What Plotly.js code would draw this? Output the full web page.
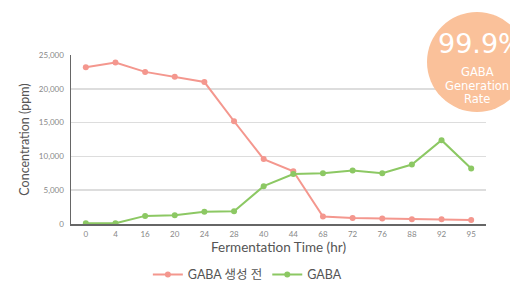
<!DOCTYPE html>
<html>
<head>
<meta charset="utf-8">
<script src="https://cdn.plot.ly/plotly-3.0.1.min.js"></script>
<style>html,body{margin:0;padding:0;background:#fff;}#chart{width:510px;height:281px;}</style>
</head>
<body>
<div id="chart"></div>
<script>
const categories = ["0","4","16","20","24","28","40","44","68","72","76","88","92","95"];
const beforeGABA = [23200, 23900, 22500, 21800, 21000, 15200, 9600, 7800, 1100, 900, 800, 700, 700, 600];
const gaba = [100, 100, 1200, 1300, 1800, 1900, 5600, 7400, 7500, 7900, 7500, 8800, 12400, 8200];
const seriesNames = ["GABA 생성 전", "GABA"];
const yTicks = [0, 5000, 10000, 15000, 20000, 25000];
const yTickText = ["0", "5,000", "10,000", "15,000", "20,000", "25,000"];
const badgeValue = "99.9%";
const badgeLines = ["GABA", "Generation", "Rate"];

const font = "Lato, 'Noto Sans CJK KR', sans-serif";
const badgeFont = "'DejaVu Sans', sans-serif";
const traces = [
  {x: categories, y: beforeGABA, name: seriesNames[0], type: 'scatter', mode: 'lines+markers',
   line: {color: '#F4978E', width: 2}, marker: {color: '#F4978E', size: 6}},
  {x: categories, y: gaba, name: seriesNames[1], type: 'scatter', mode: 'lines+markers',
   line: {color: '#8CC863', width: 2}, marker: {color: '#8CC863', size: 6}}
];
const L = 71, T = 55, W = 415, H = 169;
const px = v => (v - L) / W;
const py = v => (T + H - v) / H;
const lineY = [72, 85.5, 99];
const annotations = [
  {xref: 'paper', yref: 'paper', x: px(437), y: py(43), xanchor: 'left', yanchor: 'middle',
   text: badgeValue, showarrow: false, borderpad: 0, font: {size: 27, color: '#fff', family: badgeFont}}
];
badgeLines.forEach((t, i) => annotations.push(
  {xref: 'paper', yref: 'paper', x: px(477), y: py(lineY[i]), xanchor: 'center', yanchor: 'middle',
   text: t, showarrow: false, borderpad: 0,
   font: {size: 11.5, color: '#fff', family: badgeFont}}));
const layout = {
  width: 510, height: 281,
  margin: {l: 71, r: 24, t: 55, b: 57, autoexpand: false},
  paper_bgcolor: '#fff', plot_bgcolor: '#fff',
  font: {family: font, color: '#777'},
  showlegend: true,
  legend: {orientation: 'h', x: 0.485, xanchor: 'center', xref: 'container', yref: 'container',
           y: 0.022, yanchor: 'middle', itemwidth: 30,
           font: {size: 12.5, color: '#555'}},
  xaxis: {type: 'category', range: [-0.5, 13.5], tickfont: {size: 8, color: '#888'}, automargin: false,
          showline: true, linecolor: '#666', linewidth: 1.5, showgrid: false,
          ticks: '', ticklen: 0, zeroline: false, ticklabelstandoff: 2,
          title: {text: 'Fermentation Time (hr)', font: {size: 13.5, color: '#555'}, standoff: 4}},
  yaxis: {range: [0, 25000], tickvals: yTicks, ticktext: yTickText, automargin: false,
          tickfont: {size: 8, color: '#888'}, showline: true, linecolor: '#666', linewidth: 1.5,
          gridcolor: '#ddd', gridwidth: 1.5, zeroline: false, ticks: '', ticklabelstandoff: 4,
          title: {text: 'Concentration (ppm)', font: {size: 12.5, color: '#555'}, standoff: 6}},
  shapes: [{type: 'circle', xref: 'paper', yref: 'paper', x0: px(427), x1: px(527), y0: py(112), y1: py(12),
            fillcolor: '#FAC19A', line: {width: 0}, layer: 'above'}],
  annotations: annotations
};
Plotly.newPlot('chart', traces, layout, {displayModeBar: false, staticPlot: true});
</script>
</body>
</html>
